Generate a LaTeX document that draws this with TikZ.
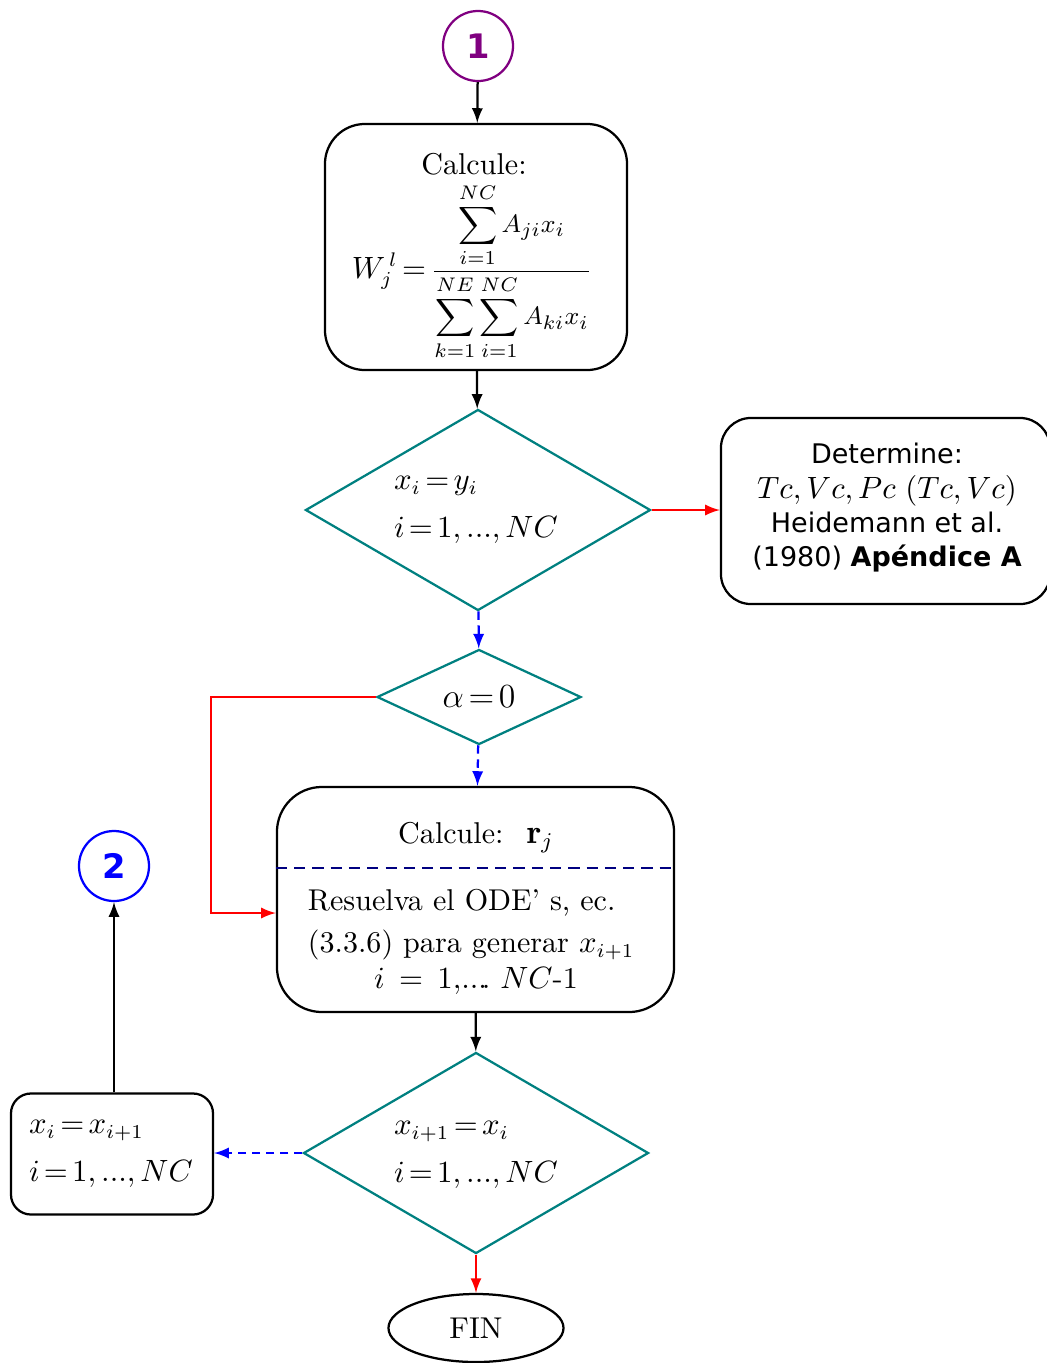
\documentclass[tikz,border=0pt]{standalone}
\usepackage{amsmath}
\usepackage{amssymb}
\usepackage{fontspec}
\newfontfamily\verdana{DejaVu Sans}
\usetikzlibrary{arrows,shapes,positioning}
\usepackage{xcolor}
\definecolor{dfpurple}{RGB}{128,0,128}
\definecolor{dfteal}{RGB}{0,128,128}
\definecolor{dfblue}{RGB}{0,0,255}
\definecolor{dfred}{RGB}{255,0,0}
\definecolor{dfnavy}{RGB}{0,0,128}
\newcommand{\tightmath}{\thickmuskip=2.5mu\relax\medmuskip=2mu\relax}
\tikzstyle{process} = [rectangle, rounded corners=0.5cm, draw=black, line width=0.8pt]
\tikzstyle{decision} = [diamond, draw=dfteal, line width=0.8pt, inner sep=0pt]
\tikzstyle{connector} = [circle, line width=0.8pt, minimum size=0.875cm, font=\verdana\bfseries\large]
\tikzstyle{arrow} = [line width=0.8pt,->,>=latex]
\tikzstyle{dasharrow} = [arrow, color=dfblue, dash pattern=on 3pt off 2pt]

\begin{document}
\begin{tikzpicture}[x=0.0125cm, y=-0.0125cm, font=\fontsize{10.7}{13}\selectfont\tightmath]
\useasboundingbox (0,0) rectangle (1047,1363);
% Flow chart
\node (start) [connector, draw=dfpurple, text=dfpurple] at (478,46) {1};
\node (calc) [process, minimum width=3.775cm, minimum height=3.075cm] at (476,247) {};
\node (calctxt) at (474,164) {Calcule:};
\node (wfrac) at (472,272) {$W_j^{\,l} =$\,{\fontsize{9.4}{11}\selectfont\tightmath$\dfrac{\displaystyle\sum_{i=1}^{NC} A_{ji}x_i}{\displaystyle\sum_{k=1}^{NE}\sum_{i=1}^{NC} A_{ki}x_i}$}};
\node (test1) [decision, minimum width=4.3125cm, minimum height=2.5125cm] at (478,510) {};
\node (test1txt) [align=left] at (476,510) {$x_i = y_i$\\[4pt] $i = 1,...,NC$};
\node (det) [process, rounded corners=0.375cm, minimum width=4.1125cm, minimum height=2.325cm] at (885.5,511) {};
\node (dettxt) [align=center, font=\verdana\fontsize{9.6}{12.2}\selectfont] at (887,508) {Determine:\\ {\fontsize{10.8}{12}\selectfont$Tc, Vc, Pc\ (Tc, Vc)$}\\ Heidemann et al.\\ (1980) \textbf{Apéndice A}};
\node (test2) [decision, minimum width=2.55cm, minimum height=1.1875cm] at (479,697) {};
\node (test2txt) [font=\fontsize{11.5}{13}\selectfont\tightmath] at (479,697) {$\alpha = 0$};
\node (ode) [process, rounded corners=0.5625cm, minimum width=4.9625cm, minimum height=2.8125cm] at (475.5,899.5) {};
\coordinate (odediv) at (475.5,868);
\node (odehead) at (476,838) {Calcule: \ {\large$\mathbf{r}_j$}};
\node (odetxt) [align=left, anchor=west] at (298,925) {Resuelva el ODE’ s, ec.\\[2pt] (3.3.6) para generar $x_{i+1}$};
\node (odeidx) at (476,981) {$i\ =\ 1,\!...\!.\ NC$-1};
\node (test3) [decision, minimum width=4.3125cm, minimum height=2.5125cm] at (476,1153) {};
\node (test3txt) [align=left] at (476,1155) {$x_{i+1} = x_i$\\[4pt] $i = 1,...,NC$};
\node (update) [process, rounded corners=0.25cm, minimum width=2.525cm, minimum height=1.5125cm] at (112,1154) {};
\node (updatetxt) [align=left] at (111,1154) {$x_i = x_{i+1}$\\[4pt] $i = 1,...,NC$};
\node (back) [connector, draw=dfblue, text=dfblue] at (114,866) {2};
\node (fin) [ellipse, draw=black, line width=0.8pt, minimum width=2.1875cm, minimum height=0.85cm] at (476,1328) {FIN};
\coordinate (loop) at (211,913);

\draw[arrow] (start) -- (calc);
\draw[arrow] (calc) -- (test1);
\draw[arrow, color=dfred] (test1.east) -- (test1.east -| det.west);
\draw[dasharrow] (test1) -- (test2);
\draw[arrow, color=dfred] (test2.west) -| (loop) -- (loop -| ode.west);
\draw[dasharrow] (test2) -- (ode);
\draw[dfnavy, line width=0.8pt, dash pattern=on 4pt off 2.5pt] (odediv -| ode.west) -- (odediv -| ode.east);
\draw[arrow] (ode) -- (test3);
\draw[dasharrow] (test3.west) -- (test3.west -| update.east);
\draw[arrow] (back.south |- update.north) -- (back);
\draw[arrow, color=dfred] (test3) -- (fin);
\end{tikzpicture}
\end{document}
